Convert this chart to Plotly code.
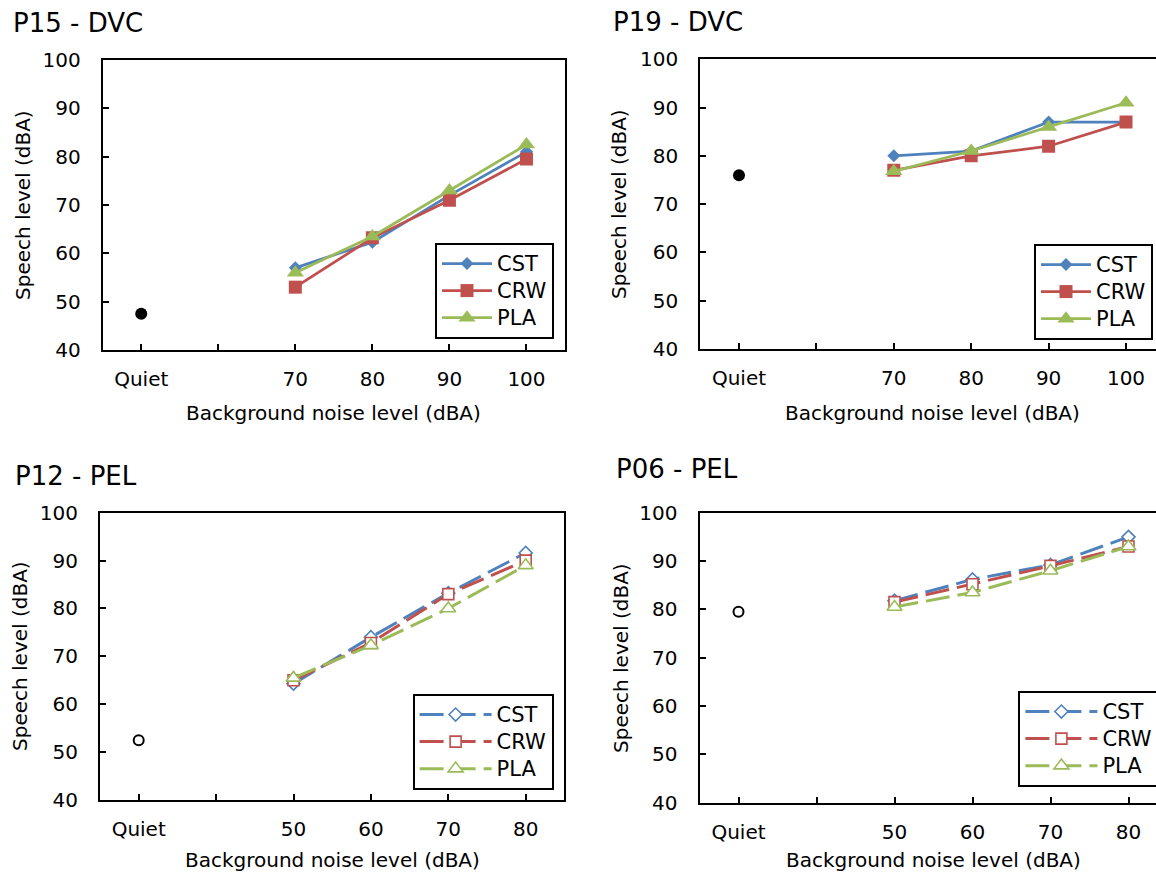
import plotly.graph_objects as go

W, H = 1156, 875

# Background-noise categories (dBA) used on each pair of panels
dvc_levels = ["70", "80", "90", "100"]
pel_levels = ["50", "60", "70", "80"]

# Speech levels (dBA) per participant and mask condition
p15_quiet = 47.5
p15_cst = [57.0, 62.3, 72.0, 81.0]
p15_crw = [53.0, 63.2, 71.0, 79.5]
p15_pla = [56.0, 63.5, 73.0, 82.5]

p19_quiet = 76.0
p19_cst = [80.0, 81.0, 87.0, 87.0]
p19_crw = [77.0, 80.0, 82.0, 87.0]
p19_pla = [76.8, 81.0, 86.0, 91.0]

p12_quiet = 52.5
p12_cst = [64.3, 74.0, 83.2, 91.6]
p12_crw = [65.0, 72.8, 83.0, 90.0]
p12_pla = [65.5, 72.3, 80.0, 89.0]

p06_quiet = 79.5
p06_cst = [81.8, 86.2, 89.2, 95.0]
p06_crw = [81.5, 85.2, 89.0, 93.0]
p06_pla = [80.5, 83.5, 88.0, 93.0]

series_names = ["CST", "CRW", "PLA"]
panel_titles = ["P15 - DVC", "P19 - DVC", "P12 - PEL", "P06 - PEL"]
quiet_label = "Quiet"
y_ticks = [40, 50, 60, 70, 80, 90, 100]
x_title = "Background noise level (dBA)"
y_title = "Speech level (dBA)"

colors = ["#4F81BD", "#C0504D", "#9BBB59"]
FONT = "DejaVu Sans, Liberation Sans, Arial, sans-serif"

# Panel geometry in pixels: left, top, bottom, category spacing, right edge of the visible domain
panels = [
    dict(levels=dvc_levels, quiet=p15_quiet, data=[p15_cst, p15_crw, p15_pla], filled=True,
         left=102.7, top=60.0, bottom=350.0, step=77.05, right=565.0, box=True,
         legend=(435, 243), title=(11, 23), ytitle=(23, 205), xtitle_y=413),
    dict(levels=dvc_levels, quiet=p19_quiet, data=[p19_cst, p19_crw, p19_pla], filled=True,
         left=700.3, top=59.3, bottom=349.0, step=77.4, right=1156.0, box=False,
         legend=(1034, 244), title=(611, 22), ytitle=(619, 204), xtitle_y=413),
    dict(levels=pel_levels, quiet=p12_quiet, data=[p12_cst, p12_crw, p12_pla], filled=False,
         left=100.0, top=512.7, bottom=800.0, step=77.4, right=564.4, box=True,
         legend=(412.6, 694), title=(13, 475.5), ytitle=(20, 656), xtitle_y=860),
    dict(levels=pel_levels, quiet=p06_quiet, data=[p06_cst, p06_crw, p06_pla], filled=False,
         left=699.5, top=512.7, bottom=802.7, step=78.0, right=1156.0, box=False,
         legend=(1018.4, 691), title=(614, 468.5), ytitle=(621, 658), xtitle_y=860),
]

fig = go.Figure()
layout = dict(
    width=W, height=H, autosize=False,
    margin=dict(l=0, r=0, t=0, b=0, pad=0, autoexpand=False),
    paper_bgcolor="white", plot_bgcolor="white",
    font=dict(family=FONT, size=20, color="black"),
    annotations=[],
)

for i, p in enumerate(panels):
    n = "" if i == 0 else str(i + 1)
    xa, ya, lg = "x" + n, "y" + n, "legend" + n
    cats = [quiet_label, " "] + p["levels"]
    xmax = -0.5 + (p["right"] - p["left"]) / p["step"]

    # quiet reference point
    fig.add_trace(go.Scatter(
        x=[quiet_label], y=[p["quiet"]], mode="markers", showlegend=False,
        xaxis=xa, yaxis=ya, hoverinfo="skip",
        marker=dict(symbol="circle", size=12 if p["filled"] else 10,
                    color="black" if p["filled"] else "white",
                    line=dict(color="black", width=0 if p["filled"] else 2)),
    ))

    for k, (name, vals) in enumerate(zip(series_names, p["data"])):
        sym = ["diamond", "square", "triangle-up"][k]
        if p["filled"]:
            size = [10, 13, 15][k]
            marker = dict(symbol=sym, size=size, color=colors[k], line=dict(width=0))
            line = dict(color=colors[k], width=2.75)
        else:
            size = [10, 11, 13][k]
            marker = dict(symbol=sym, size=size, color="white",
                          line=dict(color=colors[k], width=1.6))
            line = dict(color=colors[k], width=3, dash="24px,8px")
        fig.add_trace(go.Scatter(
            x=p["levels"], y=vals, mode="lines+markers",
            name="<span style='font-size:21px'>%s</span>" % name,
            xaxis=xa, yaxis=ya, legend=lg, marker=marker, line=line,
        ))

    axis_common = dict(
        showline=True, linecolor="black", linewidth=2,
        ticks="inside", ticklen=6, tickwidth=1.5, tickcolor="black",
        showgrid=False, zeroline=False, automargin=False,
        tickfont=dict(family=FONT, size=20, color="black"),
    )
    layout["xaxis" + n] = dict(
        axis_common,
        domain=[p["left"] / W, p["right"] / W],
        anchor=ya, type="category", categoryorder="array", categoryarray=cats,
        range=[-0.5, xmax], mirror=True, ticklabelstandoff=10,
    )
    layout["yaxis" + n] = dict(
        axis_common,
        domain=[1 - p["bottom"] / H, 1 - p["top"] / H],
        anchor=xa, range=[40, 100], tickmode="array", tickvals=y_ticks,
        mirror=p["box"], ticklabelstandoff=16,
    )
    lx, ly = p["legend"]
    layout[lg] = dict(
        x=lx / W, y=1 - ly / H, xanchor="left", yanchor="top",
        xref="paper", yref="paper",
        bgcolor="white", bordercolor="black", borderwidth=2,
        font=dict(family=FONT, size=18.5, color="black"),
        itemwidth=50 if p["filled"] else 72, tracegroupgap=0,
    )

    tx, ty = p["title"]
    layout["annotations"].append(dict(
        text=panel_titles[i], x=tx / W, y=1 - ty / H, xref="paper", yref="paper",
        xanchor="left", yanchor="middle", showarrow=False,
        font=dict(family=FONT, size=26, color="black"),
    ))
    full_right = p["left"] + 6 * p["step"]
    layout["annotations"].append(dict(
        text=x_title, x=(p["left"] + full_right) / 2 / W,
        y=1 - p["xtitle_y"] / H, xref="paper", yref="paper",
        xanchor="center", yanchor="middle", showarrow=False,
        font=dict(family=FONT, size=20, color="black"),
    ))
    yx, yy = p["ytitle"]
    layout["annotations"].append(dict(
        text=y_title, x=yx / W, y=1 - yy / H, xref="paper", yref="paper",
        xanchor="center", yanchor="middle", textangle=-90, showarrow=False,
        font=dict(family=FONT, size=20, color="black"),
    ))

fig.update_layout(**layout)
fig.write_html("out.html")
